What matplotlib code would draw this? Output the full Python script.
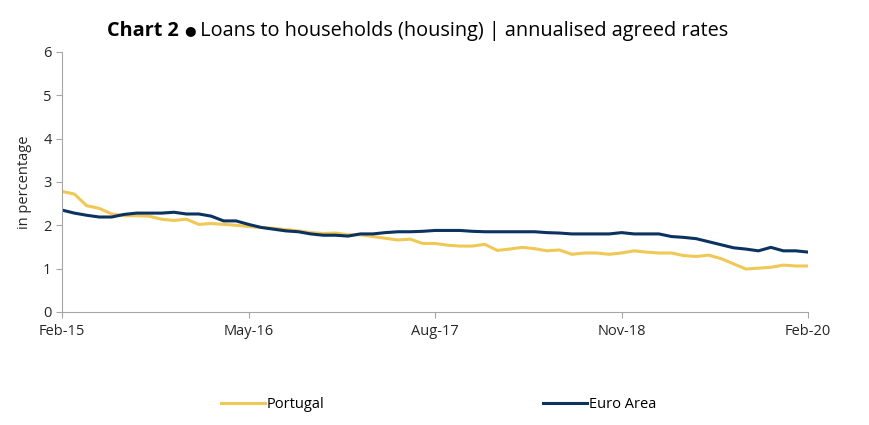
import matplotlib.pyplot as plt
import numpy as np

plt.rcParams['font.family'] = ['Open Sans', 'DejaVu Sans']

# Monthly data, Feb-15 to Feb-20
portugal = [2.78, 2.72, 2.45, 2.39, 2.26, 2.22, 2.22, 2.21, 2.14, 2.11,
            2.14, 2.02, 2.04, 2.02, 2.00, 1.97, 1.95, 1.93, 1.90, 1.87,
            1.83, 1.81, 1.82, 1.78, 1.78, 1.74, 1.70, 1.66, 1.68, 1.58,
            1.58, 1.54, 1.52, 1.52, 1.56, 1.42, 1.45, 1.49, 1.46, 1.41,
            1.43, 1.33, 1.36, 1.36, 1.33, 1.36, 1.41, 1.38, 1.36, 1.36,
            1.30, 1.28, 1.31, 1.23, 1.11, 0.99, 1.01, 1.03, 1.08, 1.06,
            1.06]
euro_area = [2.35, 2.28, 2.23, 2.19, 2.19, 2.25, 2.28, 2.28, 2.28, 2.30,
             2.26, 2.26, 2.21, 2.10, 2.10, 2.02, 1.95, 1.91, 1.87, 1.85,
             1.80, 1.77, 1.77, 1.75, 1.80, 1.80, 1.83, 1.85, 1.85, 1.86,
             1.88, 1.88, 1.88, 1.86, 1.85, 1.85, 1.85, 1.85, 1.85, 1.83,
             1.82, 1.80, 1.80, 1.80, 1.80, 1.83, 1.80, 1.80, 1.80, 1.74,
             1.72, 1.69, 1.62, 1.55, 1.48, 1.45, 1.41, 1.49, 1.41, 1.41,
             1.38]
tick_months = [0, 15, 30, 45, 60]
tick_labels = ["Feb-15", "May-16", "Aug-17", "Nov-18", "Feb-20"]

months = np.arange(len(portugal))

fig = plt.figure(figsize=(8.69, 4.25), dpi=100)
ax = fig.add_axes([0.0713, 0.266, 0.8587, 0.612])

ax.plot(months, portugal, color="#F0C855", lw=2.2, label="Portugal")
ax.plot(months, euro_area, color="#0B3260", lw=2.2, label="Euro Area")

ax.set_xlim(0, 60)
ax.set_ylim(0, 6)
ax.set_xticks(tick_months)
ax.set_xticklabels(tick_labels)
ax.set_yticks(range(7))
ax.tick_params(axis='both', colors="#A6A6A6", labelcolor="#262626",
               labelsize=10.5, length=4)
ax.tick_params(axis='x', pad=5)
for s in ["top", "right"]:
    ax.spines[s].set_visible(False)
for s in ["left", "bottom"]:
    ax.spines[s].set_color("#A6A6A6")
ax.set_ylabel("in percentage", fontsize=10.5, color="#262626", labelpad=8)

fig.legend(loc="center", bbox_to_anchor=(0.505, 0.048), ncol=2, frameon=False,
           fontsize=10.5, handlelength=3, handletextpad=0.15,
           columnspacing=15.0)

# Title: bold "Chart 2", a small bullet, then regular text
ty = 1 - 31 / 425
t1 = fig.text(107 / 869, ty, "Chart 2 ", fontsize=14.3,
              fontweight="bold", va="center", ha="left", color="black")
fig.canvas.draw()
x2 = t1.get_window_extent().x1 / fig.bbox.width
t2 = fig.text(x2, ty, "\u25cf", fontsize=9.5, va="center", ha="left",
              color="black", family=['DejaVu Sans'])
fig.canvas.draw()
x3 = t2.get_window_extent().x1 / fig.bbox.width
fig.text(x3, ty, " Loans to households (housing) | annualised agreed rates",
         fontsize=14.3, va="center", ha="left", color="black")

plt.savefig("out.png", dpi=100)
